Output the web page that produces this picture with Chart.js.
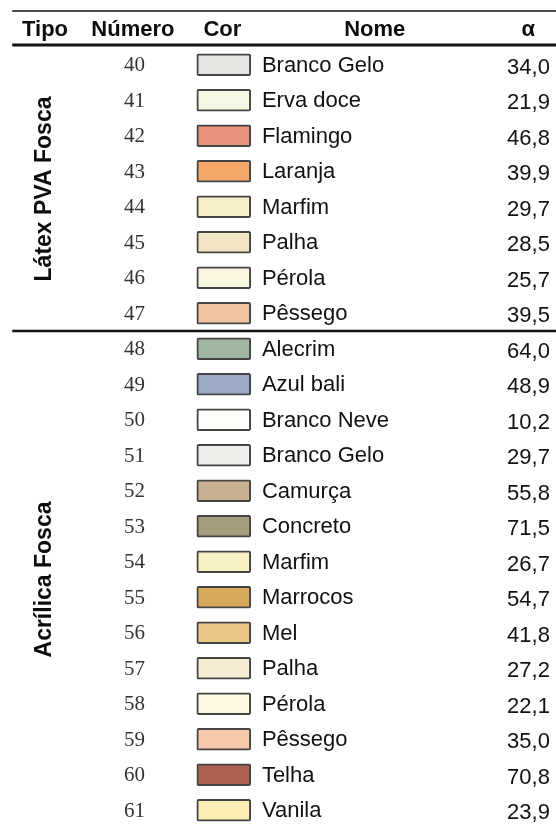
<!DOCTYPE html>
<html>
<head>
<meta charset="utf-8">
<script src="https://cdn.jsdelivr.net/npm/chart.js@4/dist/chart.umd.min.js"></script>
<style>
  html, body { margin: 0; padding: 0; background: #fff; }
  #wrap { width: 556px; height: 828px; position: relative; }
</style>
</head>
<body>
<div id="wrap"><canvas id="tabela"></canvas></div>
<script>
'use strict';

// dados da tabela
var numeros = ['40', '41', '42', '43', '44', '45', '46', '47', '48', '49', '50',
               '51', '52', '53', '54', '55', '56', '57', '58', '59', '60', '61'];
var nomes = ['Branco Gelo', 'Erva doce', 'Flamingo', 'Laranja', 'Marfim', 'Palha', 'Pérola', 'Pêssego',
             'Alecrim', 'Azul bali', 'Branco Neve', 'Branco Gelo', 'Camurça', 'Concreto', 'Marfim',
             'Marrocos', 'Mel', 'Palha', 'Pérola', 'Pêssego', 'Telha', 'Vanila'];
var alfas = [34.0, 21.9, 46.8, 39.9, 29.7, 28.5, 25.7, 39.5,
             64.0, 48.9, 10.2, 29.7, 55.8, 71.5, 26.7, 54.7, 41.8, 27.2, 22.1, 35.0, 70.8, 23.9];
var cores = ['#e3e5de', '#f7f8e3', '#e8917b', '#f4a96b', '#f5f0c5', '#f2e5c2', '#fbf6e1', '#efc39f',
             '#a0b6a0', '#9ba9c5', '#fdfdfa', '#eceeea', '#c9b090', '#a59c7d', '#f8efc5',
             '#d6aa59', '#ecc78a', '#f6ecd4', '#fdf7e3', '#f6c9ab', '#b0604f', '#fbeeb4'];
var cabecalho = ['Tipo', 'Número', 'Cor', 'Nome', 'α'];
var grupos = [
    {nome: 'Látex PVA Fosca', de: 0, ate: 7},
    {nome: 'Acrílica Fosca', de: 8, ate: 21}
];

// layout das colunas (em % da largura)
var col = {
    tipo: 8.1, numeroCab: 23.9, numero: 26.1,
    corIni: 35.4, corFim: 45.1, corCab: 40.0,
    nome: 47.1, nomeCab: 67.4, alfa: 98.9, alfaCab: 95.0,
    linhaIni: 2.2
};
var fonte = '"Liberation Sans", Arial, sans-serif';
var fonteNum = '"Liberation Serif", "Times New Roman", serif';

var desenhaTabela = {
    id: 'desenhaTabela',
    afterDatasetsDraw: function (chart) {
        var ctx = chart.ctx;
        var x = chart.scales.x;
        var y = chart.scales.y;
        var area = chart.chartArea;
        var esq = x.getPixelForValue(col.linhaIni);
        var dir = x.getPixelForValue(100);

        ctx.save();
        // linhas horizontais
        ctx.strokeStyle = '#111';
        ctx.lineWidth = 1.5;
        ctx.beginPath();
        ctx.moveTo(esq, 11);
        ctx.lineTo(dir, 11);
        ctx.stroke();

        ctx.lineWidth = 3;
        ctx.beginPath();
        ctx.moveTo(esq, area.top - 2);
        ctx.lineTo(dir, area.top - 2);
        ctx.stroke();

        var ySep = (y.getPixelForValue(grupos[0].ate) + y.getPixelForValue(grupos[1].de)) / 2;
        ctx.lineWidth = 2.5;
        ctx.beginPath();
        ctx.moveTo(esq, ySep);
        ctx.lineTo(dir, ySep);
        ctx.stroke();

        // cabecalho
        ctx.fillStyle = '#0d0d0d';
        ctx.font = 'bold 22px ' + fonte;
        ctx.textAlign = 'center';
        ctx.textBaseline = 'middle';
        var posCab = [col.tipo, col.numeroCab, col.corCab, col.nomeCab, col.alfaCab];
        cabecalho.forEach(function (t, i) {
            ctx.fillText(t, x.getPixelForValue(posCab[i]), 30);
        });

        // linhas da tabela
        numeros.forEach(function (n, i) {
            var py = y.getPixelForValue(i) + 1;
            ctx.fillStyle = '#333';
            ctx.font = '21px ' + fonteNum;
            ctx.textAlign = 'right';
            ctx.fillText(n, x.getPixelForValue(col.numero), py);

            ctx.fillStyle = '#111';
            ctx.font = '22px ' + fonte;
            ctx.textAlign = 'left';
            ctx.fillText(nomes[i], x.getPixelForValue(col.nome), py);

            ctx.textAlign = 'right';
            ctx.fillText(alfas[i].toFixed(1).replace('.', ','), x.getPixelForValue(col.alfa), py + 2);
        });

        // rotulos verticais dos grupos
        ctx.fillStyle = '#0d0d0d';
        ctx.font = 'bold 23px ' + fonte;
        ctx.textAlign = 'center';
        grupos.forEach(function (g) {
            var cy = (y.getPixelForValue(g.de) + y.getPixelForValue(g.ate)) / 2;
            ctx.save();
            ctx.translate(x.getPixelForValue(col.tipo), cy);
            ctx.rotate(-Math.PI / 2);
            ctx.fillText(g.nome, 0, 0);
            ctx.restore();
        });
        ctx.restore();
    }
};

var ctx = document.getElementById('tabela');
var tabela = new Chart(ctx, {
    type: 'bar',
    data: {
        labels: numeros,
        datasets: [{
            label: 'Cor',
            data: numeros.map(function () { return [col.corIni, col.corFim]; }),
            backgroundColor: cores,
            borderColor: '#444',
            borderWidth: 2,
            borderRadius: 2,
            borderSkipped: false,
            barThickness: 22
        }]
    },
    options: {
        indexAxis: 'y',
        responsive: true,
        maintainAspectRatio: false,
        animation: false,
        layout: {padding: {top: 47, bottom: 0, left: 0, right: 0}},
        scales: {
            x: {type: 'linear', min: 0, max: 100, display: false},
            y: {type: 'category', display: false, offset: true}
        },
        plugins: {
            legend: {display: false},
            tooltip: {enabled: false}
        }
    },
    plugins: [desenhaTabela]
});
</script>
</body>
</html>
